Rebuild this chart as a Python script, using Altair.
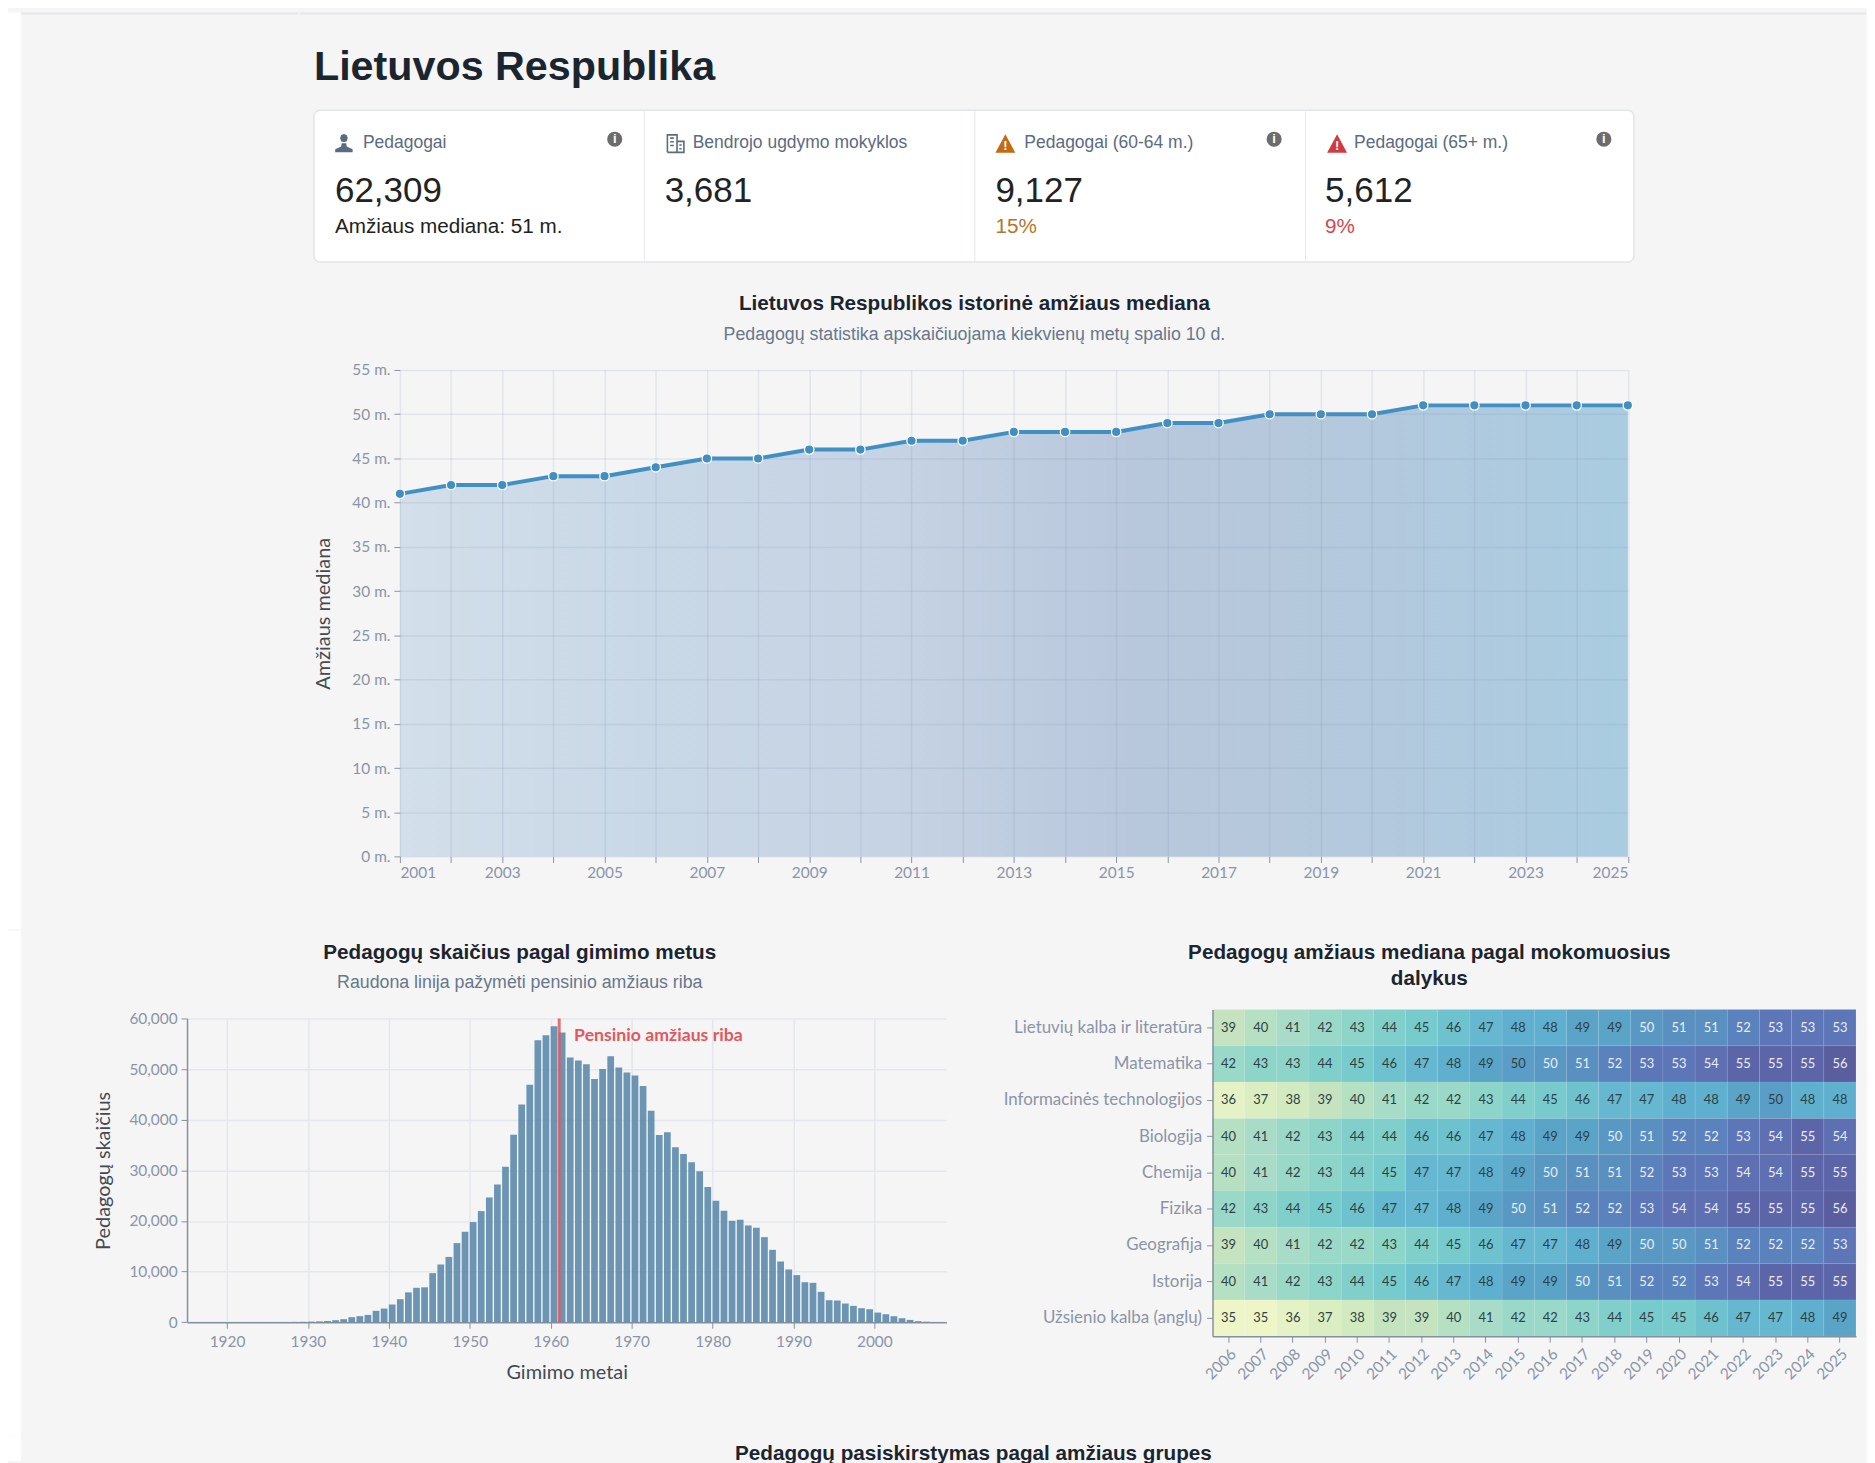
import altair as alt
import pandas as pd

# ---------- data ----------
med_years = list(range(2001, 2026))
med_values = [41, 42, 42, 43, 43, 44, 45, 45, 46, 46, 47, 47, 48, 48, 48, 49, 49, 50, 50, 50, 51, 51, 51, 51, 51]

birth_years = list(range(1916, 2009))
birth_counts = [
    10, 10, 10, 10, 10, 10, 10, 10, 10, 20, 30, 40, 60, 80, 120, 170, 250, 400, 600, 1000,
    1200, 1450, 2250, 2700, 3500, 4550, 5900, 6800, 6900, 9700, 11400, 12900, 15630, 17870, 19780,
    21950, 24650, 27200, 30700, 37050, 43000, 46900, 55700, 56700, 58480, 57230, 52300, 51700, 50970,
    48060, 50040, 52550, 50300, 49320, 48720, 46680, 41800, 36990, 37520, 34550, 33230, 31580, 29800,
    26700, 24000, 22020, 20040, 20240, 19120, 18660, 16810, 14300, 12000, 10420, 9300, 7900, 7780,
    6000, 4350, 4290, 3690, 3230, 2770, 2570, 1910, 1580, 1190, 790, 460, 200, 100, 50, 20,
]
subjects = ["Lietuvių kalba ir literatūra", "Matematika", "Informacinės technologijos", "Biologija",
            "Chemija", "Fizika", "Geografija", "Istorija", "Užsienio kalba (anglų)"]
heat_years = list(range(2006, 2026))
heat_rows = [
    [39, 40, 41, 42, 43, 44, 45, 46, 47, 48, 48, 49, 49, 50, 51, 51, 52, 53, 53, 53],
    [42, 43, 43, 44, 45, 46, 47, 48, 49, 49.6, 50, 51, 52, 53, 53, 54, 55, 55, 55, 56],
    [36, 37, 38, 39, 40, 41, 42, 42, 43, 44, 45, 46, 47, 47, 48, 48, 49, 49.6, 48, 48],
    [40, 41, 42, 43, 44, 44, 46, 46, 47, 48, 49, 49, 50, 51, 52, 52, 53, 54, 55, 54],
    [40, 41, 42, 43, 44, 45, 47, 47, 48, 49, 50, 51, 51, 52, 53, 53, 54, 54, 55, 55],
    [42, 43, 44, 45, 46, 47, 47, 48, 49, 50, 51, 52, 52, 53, 54, 54, 55, 55, 55, 56],
    [39, 40, 41, 42, 42, 43, 44, 45, 46, 47, 47, 48, 49, 50, 50, 51, 52, 52, 52, 53],
    [40, 41, 42, 43, 44, 45, 46, 47, 48, 49, 49, 50, 51, 52, 52, 53, 54, 55, 55, 55],
    [35, 35, 36, 37, 38, 39, 39, 40, 41, 42, 42, 43, 44, 45, 45, 46, 47, 47, 48, 49],
]
heat_stops = [35, 38, 39, 41, 42, 44, 45, 47, 48, 49, 50, 51, 52, 53, 54, 55, 56]
heat_colors = ["#eef6c8", "#d2eac0", "#c4e3be", "#a8dcc8", "#9ad8c8", "#80cfcb", "#78cbcc", "#66b8d0", "#5fb0cf",
               "#5aa4c8", "#5a98c4", "#5a90c0", "#5a82bc", "#5c76b8", "#5e6fb2", "#5c65a8", "#5a5d9e"]

cards = [
    ("Pedagogai", "62,309", "Amžiaus mediana: 51 m.", "#222222"),
    ("Bendrojo ugdymo mokyklos", "3,681", "", "#222222"),
    ("Pedagogai (60-64 m.)", "9,127", "15%", "#b5762a"),
    ("Pedagogai (65+ m.)", "5,612", "9%", "#d9434e"),
]

# ---------- style ----------
BG = "#f5f5f6"
SANS = "Liberation Sans"
AX = "Lato"
LBL = "#8a94a6"
TTL = "#444a52"
DOM = "#85919f"
GRID = "#e4e7ed"
S = 0.9955                # the photographed page comes out slightly reduced
UP = 4.3                  # and slightly lower than the nominal margin


def D(v):
    return v / S


def txt(s, x, y, size=16, color="#222222", bold=False, align="center", font=SANS):
    return alt.Chart(pd.DataFrame({"t": [s]})).mark_text(
        align=align, baseline="middle", font=font, fontSize=D(size), color=color,
        fontWeight="bold" if bold else "normal",
    ).encode(text="t:N", x=alt.value(x), y=alt.value(y))


def box(x, x2, y, y2, color="white", opacity=1.0, **kw):
    return alt.Chart(pd.DataFrame({"k": [0]})).mark_rect(color=color, opacity=opacity, **kw).encode(
        x=alt.value(x), x2=alt.value(x2), y=alt.value(y), y2=alt.value(y2))


def sym(shape, x, y, size, color, filled=True, sw=0):
    return alt.Chart(pd.DataFrame({"k": [0]})).mark_point(
        shape=shape, size=size, filled=filled, color=color, opacity=1, strokeWidth=sw
    ).encode(x=alt.value(x), y=alt.value(y))


HX, HY = D(187), D(1018) - UP   # histogram plot position (origin shared by all rows)

# ---------- row 1: plot origin at page (399, 370) ----------
OX, OY = D(399), D(370) - UP
W1, H1 = D(1229), D(487)


def tx(v):
    return D(v) - OX


def ty(v):
    return D(v) - D(370)


PERSON = ("M0,-1 L0.3,-0.88 L0.42,-0.55 L0.3,-0.22 L0,-0.1 L-0.3,-0.22 L-0.42,-0.55 L-0.3,-0.88 Z "
          "M-0.25,0 L0.25,0 L0.3,0.35 L0.95,0.65 L0.95,1 L-0.95,1 L-0.95,0.65 L-0.3,0.35 Z")
BUILD = ("M-0.9,1 L-0.9,-0.9 L0.15,-0.9 L0.15,1 M0.15,-0.2 L0.9,-0.2 L0.9,1 L-0.9,1 M-0.6,-0.55 L-0.2,-0.55 "
         "M-0.6,-0.15 L-0.2,-0.15 M-0.6,0.25 L-0.2,0.25 M0.4,0.2 L0.65,0.2 M0.4,0.6 L0.65,0.6")
TRI = "M0,-1 L1,0.85 L-1,0.85 Z"

TITLE_C = "#1a2530"
SUB_C = "#68778a"
TS, SS = 20.7, 17.8

hdr = []
hdr.append(box(300 - OX, 1875 - OX, 8 - OY, 930 - OY, opacity=0))        # extent holder
hdr.append(box(300 - OX, 1875 - OX, 8 - OY, 10 - OY, color="#e6e7ea"))   # page top line
hdr.append(txt("Lietuvos Respublika", tx(313), ty(67.5), size=41.3, color=TITLE_C, bold=True, align="left"))
hdr.append(box(tx(313), tx(1634), ty(110), ty(262), stroke="#e2e5ea", strokeWidth=1.5, cornerRadius=6))
for sx in (643, 974, 1305):
    hdr.append(box(tx(sx), tx(sx + 1), ty(111), ty(261), color="#e6e8ec"))

label_x = [362, 692, 1024, 1354]
value_x = [334, 664, 995, 1325]
for i, (lab, val, sub, subc) in enumerate(cards):
    hdr.append(txt(lab, tx(label_x[i]), ty(143), size=17.5, color="#5b6b80", align="left"))
    hdr.append(txt(val, tx(value_x[i]), ty(191), size=35, color="#222222", align="left"))
    if sub:
        hdr.append(txt(sub, tx(value_x[i]), ty(227), size=20.7, color=subc, align="left"))
hdr.append(sym(PERSON, tx(343), ty(143), 340, "#5b6b80"))
hdr.append(sym(BUILD, tx(675), ty(143), 340, "#5b6b80", filled=False, sw=1.6))
hdr.append(sym(TRI, tx(1005), ty(144), 400, "#c46b12"))
hdr.append(txt("!", tx(1005), ty(146), size=13, color="white", bold=True))
hdr.append(sym(TRI, tx(1337), ty(144), 400, "#d23a3f"))
hdr.append(txt("!", tx(1337), ty(146), size=13, color="white", bold=True))
for ix in (614, 1274, 1604):
    hdr.append(sym("circle", tx(ix), ty(139), 230, "#6c6c6c"))
    hdr.append(txt("i", tx(ix), ty(139), size=13, color="white", bold=True))
hdr.append(txt("Lietuvos Respublikos istorinė amžiaus mediana", tx(974), ty(304), size=TS, color=TITLE_C, bold=True))
hdr.append(txt("Pedagogų statistika apskaičiuojama kiekvienų metų spalio 10 d.", tx(974), ty(335), size=SS, color=SUB_C))

med_df = pd.DataFrame({"year": med_years, "median": med_values})
xs = alt.Scale(domain=[2001, 2025], nice=False)
ys = alt.Scale(domain=[0, 55], nice=False)
x_line = alt.X("year:Q", scale=xs, axis=alt.Axis(
    title=None, values=med_years, labelExpr="datum.value % 2 == 1 ? format(datum.value, 'd') : ''",
    labelFlush=True, labelFont=AX, labelFontSize=15.5, labelColor=LBL, labelPadding=3,
    tickColor=LBL, tickSize=6, domain=False, gridColor="#7890aa", gridOpacity=0.15, gridWidth=1.5, zindex=1,
    labelOverlap=False))
y_line = alt.Y("median:Q", scale=ys, axis=alt.Axis(
    title="Amžiaus mediana", values=list(range(0, 60, 5)), labelExpr="datum.value + ' m.'",
    labelFont=AX, labelFontSize=15.5, labelColor=LBL, labelPadding=4, tickColor=LBL, tickSize=6,
    domain=False, gridColor="#7890aa", gridOpacity=0.15, gridWidth=1.5, zindex=1,
    titleFont=AX, titleFontSize=20, titleFontWeight="normal", titleColor=TTL, titlePadding=18))

grad = alt.LinearGradient(gradient="linear", x1=0, x2=1, y1=0, y2=0, stops=[
    alt.GradientStop(color="#d3dfea", offset=0),
    alt.GradientStop(color="#c9d8e7", offset=0.2),
    alt.GradientStop(color="#c6d3e4", offset=0.4),
    alt.GradientStop(color="#b8c7dc", offset=0.6),
    alt.GradientStop(color="#b3c9dd", offset=0.8),
    alt.GradientStop(color="#a9cce1", offset=1),
])
area = alt.Chart(med_df).mark_area(color=grad, line=False).encode(x=x_line, y=y_line)
line = alt.Chart(med_df).mark_line(color="#4190c4", strokeWidth=4).encode(x=x_line, y=y_line)
pts = alt.Chart(med_df).mark_point(filled=True, fill="#3f8fc4", stroke="white", strokeWidth=1.3, size=90, opacity=1).encode(x=x_line, y=y_line)

top = alt.layer(*hdr, area, line, pts).properties(width=W1, height=H1)

# spacer placed left of the top panel: pushes its plot to page x = 399
anchor = alt.layer(
    box(0, 300 - HX, 0, 1, opacity=0),
    box(21 - HX, 300 - HX, 8 - OY, 10 - OY, color="#e6e7ea"),
    box(8 - HX, 21 - HX, 8 - OY, 930 - OY),
).properties(width=300 - HX, height=1)
row1 = alt.concat(anchor, top, columns=2, spacing=0).properties(align="none", bounds="full")

# ---------- histogram ----------
W2, H2 = D(760), D(304)
birth_df = pd.DataFrame({"year": birth_years, "count": birth_counts})
birth_df["end"] = birth_df["year"] + 0.83
x_h = alt.X("year:Q", scale=alt.Scale(domain=[1915.06, 2008.9], nice=False), axis=alt.Axis(
    title="Gimimo metai", values=list(range(1920, 2010, 10)), format="d", labelFont=AX, labelFontSize=15.5,
    labelColor=LBL, labelPadding=6, tickColor=DOM, tickSize=6, domainColor=DOM, domainWidth=1.5,
    gridColor=GRID, gridWidth=1.5, titleFont=AX, titleFontSize=20, titleFontWeight="normal",
    titleColor=TTL, titlePadding=13))
y_h = alt.Y("count:Q", scale=alt.Scale(domain=[0, 60000], nice=False), axis=alt.Axis(
    title="Pedagogų skaičius", values=list(range(0, 70000, 10000)), format=",d", labelFont=AX, labelFontSize=15.5,
    labelColor=LBL, labelPadding=4, tickColor=DOM, tickSize=6, domainColor=DOM, domainWidth=1.5,
    gridColor=GRID, gridWidth=1.5, titleFont=AX, titleFontSize=20, titleFontWeight="normal",
    titleColor=TTL, titlePadding=15))
bars = alt.Chart(birth_df).mark_bar(color="#5f8cae", opacity=0.92).encode(
    x=x_h, x2="end:Q", y=y_h, y2=alt.value(H2))
retire = pd.DataFrame({"year": [1961.05], "label": ["Pensinio amžiaus riba"]})
rule = alt.Chart(retire).mark_rule(color="#e2585c", strokeWidth=3, opacity=0.85).encode(x=alt.X("year:Q"))
rule_t = alt.Chart(retire).mark_text(
    align="left", baseline="middle", dx=15, font=AX, fontSize=17.8, fontWeight="bold", color="#e2585c"
).encode(x=alt.X("year:Q"), y=alt.value(18), text="label:N")


def hy(v):
    return D(v) - D(1018)


hist = alt.layer(
    box(8 - HX, 21 - HX, 930 - HY, 1438 - HY),
    box(8 - HX, 1000 - HX, 930 - HY, 1438 - HY, opacity=0),
    bars, rule, rule_t,
    txt("Pedagogų skaičius pagal gimimo metus", D(520) - HX, hy(952), size=TS, color=TITLE_C, bold=True),
    txt("Raudona linija pažymėti pensinio amžiaus riba", D(520) - HX, hy(983), size=SS, color=SUB_C),
).properties(width=W2, height=H2)

# ---------- heatmap: origin x 1212, y shared with histogram; band range starts above it ----------
MX, MY = D(1212), HY
W3, H3 = D(644), D(318)
heat_df = pd.DataFrame(
    [{"subject": s, "year": y, "v": v} for s, row in zip(subjects, heat_rows) for y, v in zip(heat_years, row)]
)
x_m = alt.X("year:O", sort=heat_years, scale=alt.Scale(paddingInner=0, paddingOuter=0), axis=alt.Axis(
    title=None, labelAngle=-45, labelFont=AX, labelFontSize=15.5, labelColor=LBL, labelPadding=4,
    tickColor=DOM, tickSize=6, domainColor=DOM, domainWidth=1.5, grid=False))
y_m = alt.Y("subject:N", sort=subjects, scale=alt.Scale(paddingInner=0, paddingOuter=0, range=[-D(9), H3]), axis=alt.Axis(
    title=None, labelFont=AX, labelFontSize=17, labelColor=LBL, labelPadding=5, tickColor=DOM, tickSize=6,
    domainColor=DOM, domainWidth=1.5, grid=False, labelLimit=400))
cells = alt.Chart(heat_df).mark_rect(stroke="#ffffff", strokeWidth=0.6, strokeOpacity=0.12).encode(
    x=x_m, y=y_m,
    color=alt.Color("v:Q", legend=None, scale=alt.Scale(domain=heat_stops, range=heat_colors)),
)
labels = alt.Chart(heat_df).mark_text(font=AX, fontSize=13, baseline="middle").encode(
    x=x_m, y=y_m,
    text=alt.Text("v:Q", format=".0f"),
    color=alt.condition("datum.v >= 50", alt.value("#e9eef6"), alt.value("#2f3f45")),
)
heat = alt.layer(
    box(1000 - MX, 1875 - MX, 930 - MY, 1438 - MY, opacity=0),
    cells, labels,
    txt("Pedagogų amžiaus mediana pagal mokomuosius", D(1429) - MX, hy(952.5), size=TS, color=TITLE_C, bold=True),
    txt("dalykus", D(1429) - MX, hy(979), size=TS, color=TITLE_C, bold=True),
).properties(width=W3, height=H3).resolve_scale(color="independent")

# ---------- bottom title ----------
bottom = alt.layer(
    box(8 - HX, 21 - HX, 0, 25),
    txt("Pedagogų pasiskirstymas pagal amžiaus grupes", D(974) - HX, D(1452) - 1438 - 2.5, size=TS, color=TITLE_C, bold=True),
).properties(width=1, height=25)

middle = alt.concat(hist, heat, columns=2, spacing=0).properties(align="none", bounds="full")
chart = alt.concat(row1, middle, bottom, columns=1, spacing=0).properties(
    align="none", bounds="full", padding=0, background=BG
).configure_view(stroke=None)

chart.save("out.html", embed_options={"renderer": "svg", "actions": False})
